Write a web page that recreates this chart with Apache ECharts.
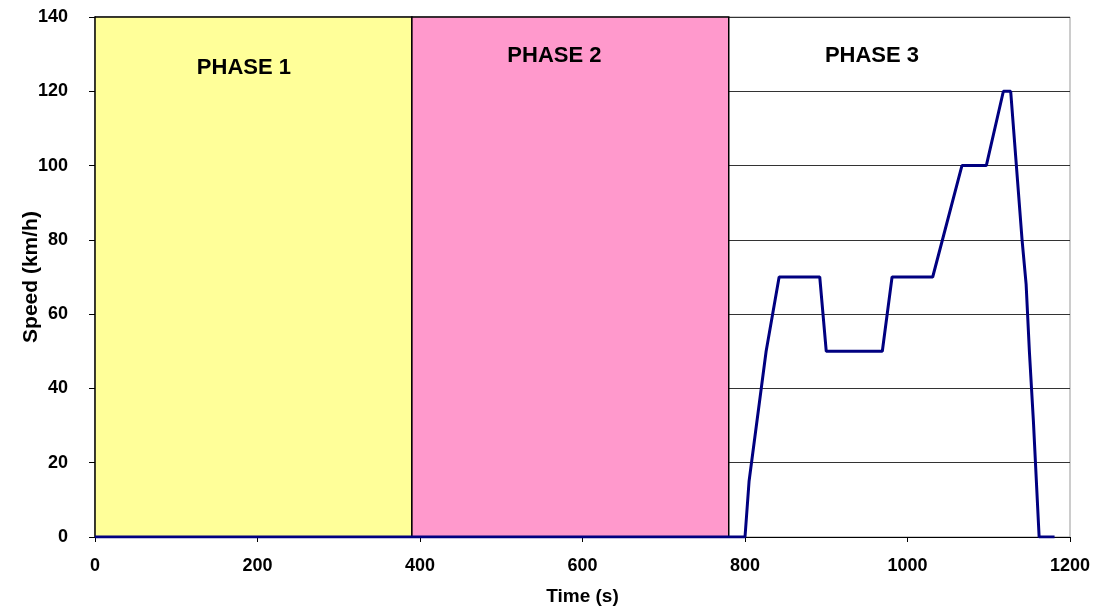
<!DOCTYPE html>
<html>
<head>
<meta charset="utf-8">
<script src="https://cdn.jsdelivr.net/npm/echarts@6/dist/echarts.min.js"></script>
<style>html,body{margin:0;padding:0;background:#fff;}#c{width:1095px;height:606px;}</style>
</head>
<body>
<div id="c"></div>
<script>
var phaseNames = ['PHASE 1', 'PHASE 2', 'PHASE 3'];
var phaseStart = [0, 390, 780];
var phaseEnd = [390, 780, 1200];
var timeS = [0, 800, 805, 807, 817, 819, 826, 828, 842, 892, 900, 969, 981, 1031, 1067, 1097, 1118, 1127, 1134, 1141, 1146, 1150, 1155, 1162, 1181];
var speedKmh = [0, 0, 15, 15, 35, 35, 50, 50, 70, 70, 50, 50, 70, 70, 100, 100, 120, 120, 100, 80, 68, 50, 31, 0, 0];
var xTicks = { min: 0, max: 1200, interval: 200 };
var yTicks = { min: 0, max: 140, interval: 20 };

var phaseFill = ['#FFFF99', '#FF99CC', 'rgba(255,255,255,0)'];
var phaseBorder = ['#000', '#000', 'rgba(0,0,0,0)'];
var labelPos = [['47%', 52], ['45%', 40], ['42%', 40]];

var lineData = timeS.map(function (t, i) { return [t, speedKmh[i]]; });
var areas = phaseNames.map(function (n, i) {
  return [{
    name: n, xAxis: phaseStart[i], yAxis: yTicks.min,
    itemStyle: { color: phaseFill[i], borderColor: phaseBorder[i], borderWidth: 1.5 },
    label: { position: labelPos[i] }
  }, { xAxis: phaseEnd[i], yAxis: yTicks.max }];
});

var font = 'Liberation Sans, Arial, sans-serif';
var chart = echarts.init(document.getElementById('c'), null, { renderer: 'canvas' });
chart.setOption({
  animation: false,
  backgroundColor: '#fff',
  grid: { left: 95, right: 25, top: 17, bottom: 69, show: true, borderColor: '#999', borderWidth: 1,
    containLabel: false, outerBoundsMode: 'none' },
  xAxis: {
    type: 'value', min: xTicks.min, max: xTicks.max, interval: xTicks.interval,
    name: 'Time (s)', nameLocation: 'middle', nameGap: 50,
    nameTextStyle: { fontFamily: font, fontWeight: 'bold', fontSize: 19, color: '#000' },
    axisLine: { show: true, lineStyle: { color: '#000', width: 1 } },
    axisTick: { show: true, length: 5, lineStyle: { color: '#000' } },
    axisLabel: { fontFamily: font, fontWeight: 'bold', fontSize: 18, color: '#000', margin: 20,
      formatter: function (v) { return String(v); } },
    splitLine: { show: false }
  },
  yAxis: {
    type: 'value', min: yTicks.min, max: yTicks.max, interval: yTicks.interval,
    name: 'Speed (km/h)', nameLocation: 'middle', nameGap: 53, nameMoveOverlap: false,
    nameTextStyle: { fontFamily: font, fontWeight: 'bold', fontSize: 21, color: '#000' },
    axisLine: { show: true, lineStyle: { color: '#000', width: 1 } },
    axisTick: { show: true, length: 6, lineStyle: { color: '#000' } },
    axisLabel: { fontFamily: font, fontWeight: 'bold', fontSize: 18, color: '#000', margin: 27 },
    splitLine: { show: true, lineStyle: { color: '#333', width: 1 } }
  },
  series: [
    {
      type: 'line', data: lineData, symbol: 'none', z: 2,
      lineStyle: { color: '#000080', width: 3 }
    },
    {
      type: 'line', data: [], z: 3, silent: true,
      markArea: {
        silent: true,
        label: {
          show: true, fontFamily: font, fontWeight: 'bold', fontSize: 22, color: '#000',
          align: 'center', verticalAlign: 'middle'
        },
        data: areas
      }
    }
  ]
});
</script>
</body>
</html>
